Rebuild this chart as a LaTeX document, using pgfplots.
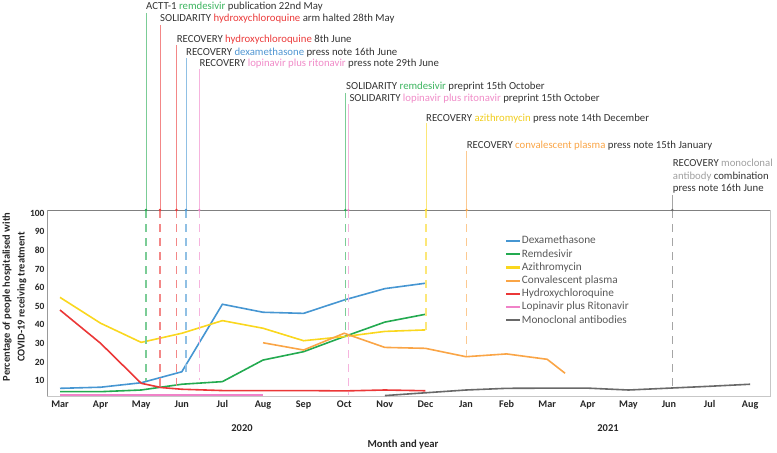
\documentclass[border=0pt]{standalone}
\usepackage{fontspec}
\setmainfont{Carlito}
\usepackage{pgfplots}
\pgfplotsset{compat=1.18}

\definecolor{cDexa}{RGB}{70,150,210}
\definecolor{cRem}{RGB}{35,170,80}
\definecolor{cAzi}{RGB}{250,215,30}
\definecolor{cConv}{RGB}{250,165,70}
\definecolor{cHcq}{RGB}{235,55,55}
\definecolor{cLop}{RGB}{240,130,200}
\definecolor{cMono}{RGB}{105,105,105}
\definecolor{tRem}{RGB}{60,180,95}
\definecolor{tHcq}{RGB}{235,60,60}
\definecolor{tDexa}{RGB}{80,150,210}
\definecolor{tLop}{RGB}{240,140,200}
\definecolor{tAzi}{RGB}{240,205,30}
\definecolor{tConv}{RGB}{250,165,70}
\definecolor{tMono}{RGB}{160,160,160}

\newcommand{\annfont}{\fontsize{10.8}{12}\selectfont}
\newcommand{\ann}[4]{%
  \draw[#4!60, line width=0.9bp] (axis cs:#1,#2) -- (axis cs:#1,101.77);
  \draw[#4!60, line width=1.4bp, dash pattern=on 8bp off 6bp] (axis cs:#1,101.77) -- (axis cs:#1,#3);
  \fill[#4] (axis cs:#1,101.77) circle (1.3bp);
}

\begin{document}
\begin{tikzpicture}
\begin{axis}[
  scale only axis, width=723bp, height=186bp,
  xmin=-0.320, xmax=17.488, ymin=1.77, ymax=101.77,
  clip=false,
  axis line style={black!22, line width=0.7bp},
  xtick={0,...,17},
  xticklabels={Mar,Apr,May,Jun,Jul,Aug,Sep,Oct,Nov,Dec,Jan,Feb,Mar,Apr,May,Jun,Jul,Aug},
  ytick={10,20,...,100},
  major tick length=0pt,
  xticklabel style={yshift=-1bp, font=\fontsize{10.2}{12}\selectfont\bfseries},
  yticklabel style={xshift=1bp, font=\fontsize{9.5}{11}\selectfont\bfseries},
  tick label style={text=black!85},
  /pgf/number format/assume math mode=true,
  legend style={at={(0.6335,0.865)}, anchor=north west, draw=none, fill=none,
    font=\fontsize{11.3}{12}\selectfont, text=black!65, row sep=1.7bp, inner sep=0pt,
    nodes={inner sep=0.5bp, text height=8bp, text depth=2.5bp}},
  legend cell align=left,
  legend image code/.code={\draw[#1, line width=2.2bp] (0bp,0bp) -- (14bp,0bp);},
  every axis plot/.append style={line width=1.6bp},
]
\addplot[cDexa] coordinates {(0,5.9)(1,6.5)(2,8.9)(3,14.8)(4,51.1)(5,46.8)(6,46.2)(7,53.4)(8,59.5)(9,62.4)};
\addlegendentry{Dexamethasone}
\addplot[cRem] coordinates {(0,4.1)(1,4.1)(2,5.0)(3,8.1)(4,9.5)(5,21.1)(6,25.6)(7,33.7)(8,41.5)(9,45.7)};
\addlegendentry{Remdesivir}
\addplot[cAzi] coordinates {(0,54.8)(1,40.9)(2,30.6)(3,35.5)(4,42.3)(5,38.2)(6,31.5)(7,33.7)(8,36.5)(9,37.3)};
\addlegendentry{Azithromycin}
\addplot[cConv] coordinates {(5,30.4)(6,26.5)(7,35.5)(8,27.9)(9,27.4)(10,22.9)(11,24.4)(12,21.5)(12.44,14.0)};
\addlegendentry{Convalescent plasma}
\addplot[cHcq] coordinates {(0,48.0)(1,30.1)(2,8.6)(2.5,6.3)(3,5.4)(4,4.7)(5,4.7)(6,4.7)(7,4.5)(8,5.0)(9,4.6)};
\addlegendentry{Hydroxychloroquine}
\addplot[cLop] coordinates {(0,2.4)(5,2.4)};
\addlegendentry{Lopinavir plus Ritonavir}
\addplot[cMono] coordinates {(8,2.0)(9,3.5)(10,5.0)(11,5.9)(12,6.0)(13,6.0)(14,5.0)(15,6.0)(16,7.0)(17,8.1)};
\addlegendentry{Monoclonal antibodies}

% top and left frame
\draw[black!50, line width=1bp] (axis cs:-0.320,101.77) -- (axis cs:17.488,101.77);
\draw[black!40, line width=0.8bp] (axis cs:-0.320,101.77) -- (axis cs:-0.320,1.77);

% annotation lines
\ann{2.118}{207.7}{9.8}{cRem}
\ann{2.463}{201.2}{6.1}{cHcq}
\ann{2.869}{190.5}{6.6}{cHcq}
\ann{3.103}{183.5}{14.7}{cDexa}
\ann{3.431}{177.6}{10.4}{cLop}
\ann{7.027}{164.8}{33.5}{cRem}
\ann{7.101}{158.5}{2.3}{cLop}
\ann{9.015}{148.3}{37.3}{cAzi}
\ann{10.017}{133.5}{23.3}{cConv}
\ann{15.081}{109.8}{6.1}{cMono}

% annotation texts
\node[anchor=base west, inner sep=0, font=\annfont, text=black!80] at (axis cs:2.118,209.5) {ACTT-1 \textcolor{tRem}{remdesivir} publication 22nd May};
\node[anchor=base west, inner sep=0, font=\annfont, text=black!80] at (axis cs:2.463,203.0) {SOLIDARITY \textcolor{tHcq}{hydroxychloroquine} arm halted 28th May};
\node[anchor=base west, inner sep=0, font=\annfont, text=black!80] at (axis cs:2.874,191.9) {RECOVERY \textcolor{tHcq}{hydroxychloroquine} 8th June};
\node[anchor=base west, inner sep=0, font=\annfont, text=black!80] at (axis cs:3.103,185.1) {RECOVERY \textcolor{tDexa}{dexamethasone} press note 16th June};
\node[anchor=base west, inner sep=0, font=\annfont, text=black!80] at (axis cs:3.431,178.8) {RECOVERY \textcolor{tLop}{lopinavir plus ritonavir} press note 29th June};
\node[anchor=base west, inner sep=0, font=\annfont, text=black!80] at (axis cs:7.044,166.3) {SOLIDARITY \textcolor{tRem}{remdesivir} preprint 15th October};
\node[anchor=base west, inner sep=0, font=\annfont, text=black!80] at (axis cs:7.126,160.0) {SOLIDARITY \textcolor{tLop}{lopinavir plus ritonavir} preprint 15th October};
\node[anchor=base west, inner sep=0, font=\annfont, text=black!80] at (axis cs:9.015,149.6) {RECOVERY \textcolor{tAzi}{azithromycin} press note 14th December};
\node[anchor=base west, inner sep=0, font=\annfont, text=black!80] at (axis cs:10.017,134.9) {RECOVERY \textcolor{tConv}{convalescent plasma} press note 15th January};
\node[anchor=base west, inner sep=0, font=\annfont, text=black!80] at (axis cs:15.09,125.1) {RECOVERY \textcolor{tMono}{monoclonal}};
\node[anchor=base west, inner sep=0, font=\annfont, text=black!80] at (axis cs:15.09,118.4) {\textcolor{tMono}{antibody} combination};
\node[anchor=base west, inner sep=0, font=\annfont, text=black!80] at (axis cs:15.09,111.7) {press note 16th June};

% axis titles
\node[rotate=90, align=center, inner sep=0, font=\fontsize{10.5}{15}\selectfont\bfseries, text=black!85] at (axis cs:-1.121,55.0) {Percentage of people hospitalised with\\COVID-19 receiving treatment};
\node[inner sep=0, font=\fontsize{10.5}{13}\selectfont\bfseries, text=black!85] at (axis cs:4.483,-15.43) {2020};
\node[inner sep=0, font=\fontsize{10.5}{13}\selectfont\bfseries, text=black!85] at (axis cs:13.498,-15.43) {2021};
\node[inner sep=0, font=\fontsize{10.7}{13}\selectfont\bfseries, text=black!85] at (axis cs:8.448,-24.57) {Month and year};

\coordinate (bbtl) at (axis cs:-1.478,214.68);
\coordinate (bbbr) at (axis cs:17.660,-28.87);
\end{axis}
\pgfresetboundingbox
\path[use as bounding box] (bbtl) rectangle (bbbr);
\end{tikzpicture}
\end{document}
